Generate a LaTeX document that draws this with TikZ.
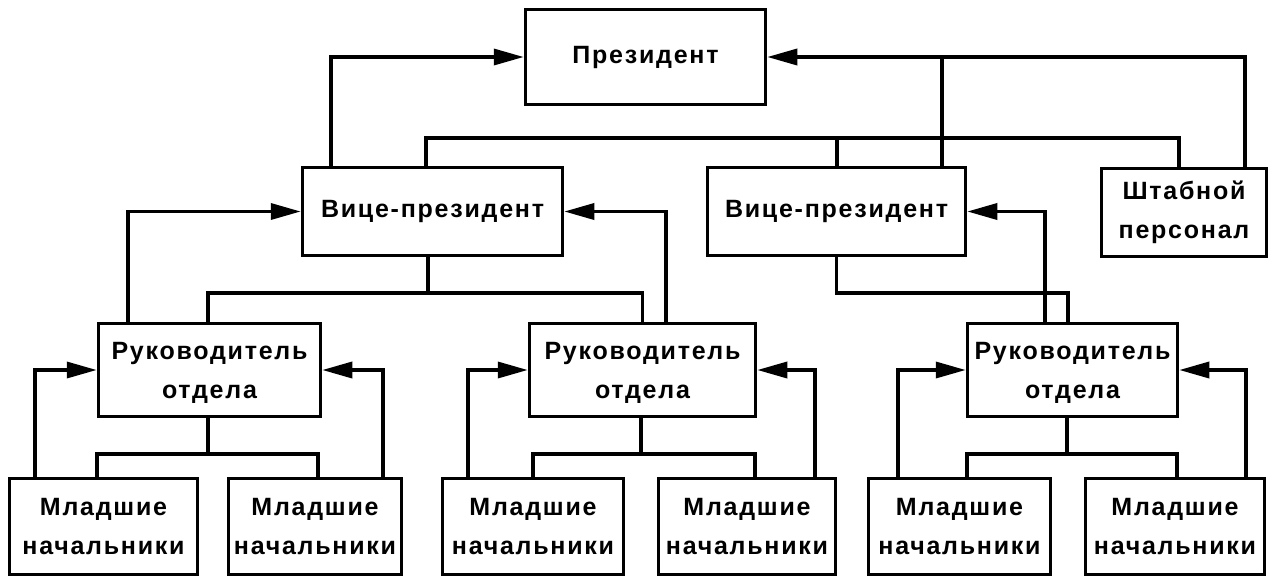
\documentclass[tikz,border=0pt]{standalone}
\usepackage{fontspec}
\setmainfont{Liberation Sans}[LetterSpace=7]
\usetikzlibrary{arrows.meta}
\begin{document}
\begin{tikzpicture}[x=1pt,y=-1pt,
  box/.style={draw, line width=3.5pt, inner sep=0pt, align=center,
    font=\bfseries\fontsize{25}{39}\selectfont},
  headbox/.style={box, text depth=-10pt},
  link/.style={line width=3.5pt, line join=miter},
  arr/.style={link, -{Triangle[length=30pt,width=16pt]}}]
\path[fill=white, use as bounding box] (0,0) rectangle (1279,587);
% boxes
\node[box, minimum width=240pt, minimum height=95pt] (pres) at (645.5,57) {Президент};
\node[box, minimum width=260pt, minimum height=88pt] (vp1) at (432.5,211.5) {Вице-президент};
\node[box, minimum width=258pt, minimum height=88pt] (vp2) at (836.5,211.5) {Вице-президент};
\node[box, minimum width=165pt, minimum height=88pt] (staff) at (1184,212.5) {Штабной\\персонал};
\node[headbox, minimum width=222pt, minimum height=93pt] (ro1) at (209.5,370) {Руководитель\\отдела};
\node[headbox, minimum width=226pt, minimum height=93pt] (ro2) at (642.5,370) {Руководитель\\отдела};
\node[headbox, minimum width=210pt, minimum height=93pt] (ro3) at (1072.5,370) {Руководитель\\отдела};
\node[box, minimum width=188pt, minimum height=96pt] (m1) at (103.5,526.5) {Младшие\\начальники};
\node[box, minimum width=173pt, minimum height=96pt] (m2) at (315,526.5) {Младшие\\начальники};
\node[box, minimum width=181pt, minimum height=96pt] (m3) at (533,526.5) {Младшие\\начальники};
\node[box, minimum width=177pt, minimum height=96pt] (m4) at (747,526.5) {Младшие\\начальники};
\node[box, minimum width=182pt, minimum height=96pt] (m5) at (959.5,526.5) {Младшие\\начальники};
\node[box, minimum width=179pt, minimum height=96pt] (m6) at (1175,526.5) {Младшие\\начальники};
% bus levels
\coordinate (busT) at (0,138);
\coordinate (busV) at (0,293);
\coordinate (busR) at (0,454);
% president level
\draw[arr] ([xshift=-101.5]vp1.north) |- (pres.west);
\draw[arr] ([xshift=61]staff.north) |- (pres.east);
\draw[link] ([xshift=105.5]vp2.north) -- ([xshift=105.5]vp2.north |- pres.east);
\draw[link] ([xshift=-6.5]vp1.north) -- ([xshift=-6.5]vp1.north |- busT) -| ([xshift=-5]staff.north);
\draw[link] ([xshift=0.5]vp2.north) -- ([xshift=0.5]vp2.north |- busT);
% vice-president 1
\draw[link] ([xshift=-4.5]vp1.south) -- ([xshift=-4.5]vp1.south |- busV);
\draw[link] ([xshift=-1.5]ro1.north) |- (ro2.north |- busV) -- (ro2.north);
\draw[arr] ([xshift=-81.5]ro1.north) |- (vp1.west);
\draw[arr] ([xshift=23.5]ro2.north) |- (vp1.east);
% vice-president 2
\draw[link] (vp2.south) |- ([xshift=-4.5]ro3.north |- busV) -- ([xshift=-4.5]ro3.north);
\draw[arr] ([xshift=-27.5]ro3.north) |- (vp2.east);
% department head 1
\draw[arr] ([xshift=-68.5]m1.north) |- (ro1.west);
\draw[arr] ([xshift=68]m2.north) |- (ro1.east);
\draw[link] ([xshift=-1.5]ro1.south) -- ([xshift=-1.5]ro1.south |- busR);
\draw[link] ([xshift=-6.5]m1.north) |- ([xshift=3]m2.north |- busR) -- ([xshift=3]m2.north);
% department head 2
\draw[arr] ([xshift=-65]m3.north) |- (ro2.west);
\draw[arr] ([xshift=68]m4.north) |- (ro2.east);
\draw[link] ([xshift=-1.5]ro2.south) -- ([xshift=-1.5]ro2.south |- busR);
\draw[link] (m3.north) |- ([xshift=8]m4.north |- busR) -- ([xshift=8]m4.north);
% department head 3
\draw[arr] ([xshift=-61.5]m5.north) |- (ro3.west);
\draw[arr] ([xshift=71]m6.north) |- (ro3.east);
\draw[link] ([xshift=-5.5]ro3.south) -- ([xshift=-5.5]ro3.south |- busR);
\draw[link] ([xshift=7.5]m5.north) |- ([xshift=2]m6.north |- busR) -- ([xshift=2]m6.north);
\end{tikzpicture}
\end{document}
